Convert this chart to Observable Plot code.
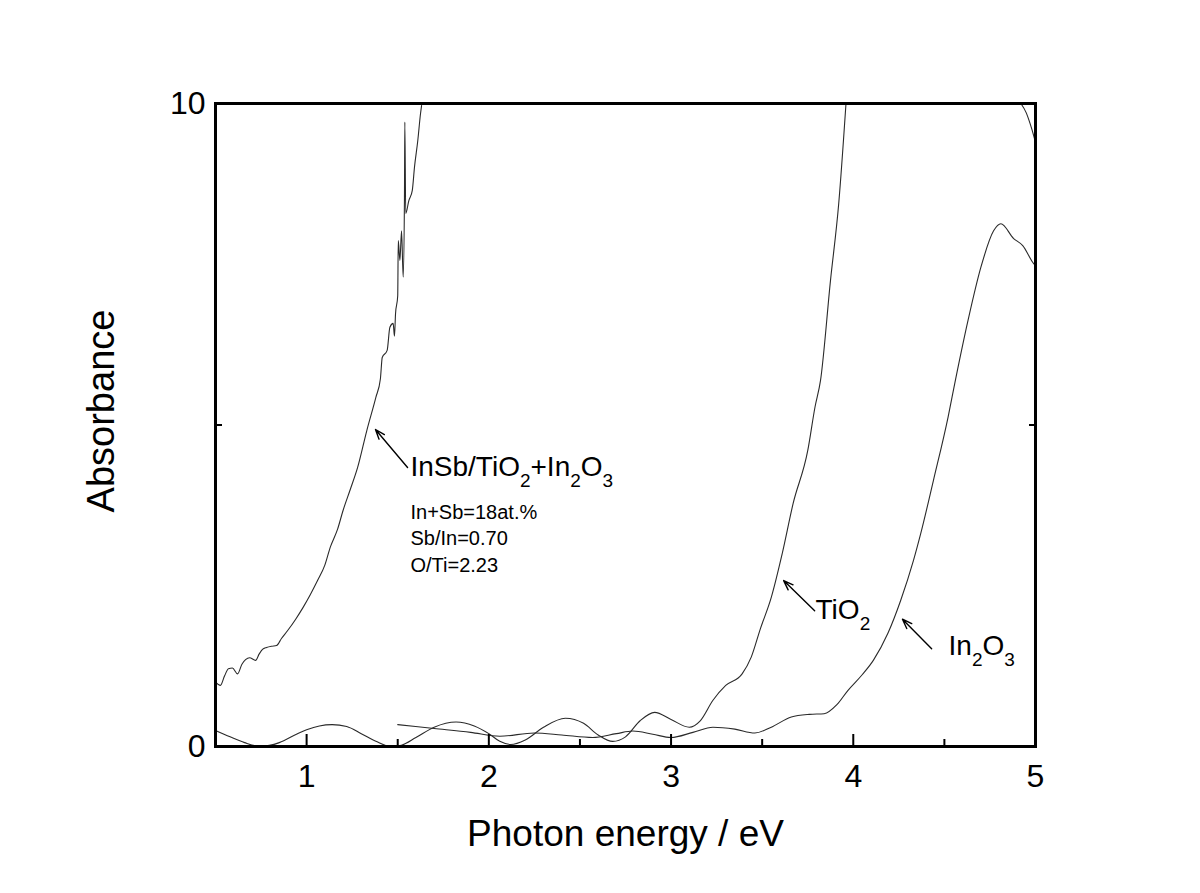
<!DOCTYPE html>
<html><head><meta charset="utf-8">
<script src="https://cdn.jsdelivr.net/npm/d3@7"></script>
<script src="https://cdn.jsdelivr.net/npm/@observablehq/plot@0.6"></script>
<style>body{margin:0;background:#fff;}</style>
</head><body><div id="chart"></div>
<script>
// InSb/TiO2+In2O3 composite film
const compX = [0.50,0.527,0.55,0.571,0.593,0.621,0.645,0.665,0.687,0.72,0.74,0.758,0.78,0.807,0.835,0.862,0.895,0.94,0.98,1.02,1.06,1.10,1.13,1.17,1.20,1.24,1.28,1.33,1.38,1.405,1.415,1.442,1.457,1.475,1.482,1.488,1.50,1.503,1.512,1.521,1.530,1.537,1.539,1.544,1.561,1.58,1.592,1.61,1.625,1.631];
const compY = [1.00,0.95,1.10,1.21,1.22,1.13,1.28,1.35,1.38,1.34,1.44,1.51,1.54,1.56,1.57,1.68,1.80,1.98,2.16,2.36,2.58,2.82,3.10,3.38,3.67,4.00,4.34,4.91,5.43,5.72,6.05,6.16,6.52,6.58,6.38,6.73,7.01,7.87,7.56,8.02,7.30,8.54,9.71,8.29,8.49,8.65,9.01,9.42,9.84,9.97];
// TiO2 film
const tio2X = [0.50,0.58,0.66,0.75,0.85,0.95,1.00,1.07,1.14,1.22,1.30,1.38,1.46,1.52,1.60,1.70,1.82,1.92,2.00,2.06,2.12,2.20,2.30,2.42,2.52,2.60,2.68,2.75,2.83,2.91,3.00,3.10,3.16,3.23,3.30,3.39,3.44,3.49,3.55,3.61,3.67,3.75,3.79,3.82,3.875,3.92,3.96];
const tio2Y = [0.25,0.15,0.06,0.00,0.06,0.20,0.26,0.32,0.34,0.31,0.20,0.08,0.00,0.02,0.14,0.30,0.38,0.32,0.20,0.08,0.03,0.10,0.30,0.44,0.36,0.18,0.08,0.15,0.40,0.53,0.42,0.30,0.40,0.72,0.95,1.13,1.39,1.83,2.32,3.00,3.78,4.60,5.28,5.69,7.25,8.44,10.0];
// In2O3 film
const in2o3X = [1.50,1.70,1.90,2.06,2.25,2.40,2.57,2.70,2.79,2.90,3.00,3.12,3.23,3.35,3.46,3.55,3.66,3.76,3.84,3.91,3.97,4.05,4.11,4.19,4.26,4.33,4.37,4.44,4.52,4.56,4.63,4.70,4.77,4.81,4.88,4.93,4.99,5.00];
const in2o3Y = [0.34,0.28,0.22,0.16,0.21,0.18,0.14,0.20,0.24,0.19,0.14,0.22,0.30,0.27,0.21,0.30,0.46,0.50,0.51,0.65,0.87,1.12,1.34,1.76,2.27,2.89,3.31,4.14,5.12,5.69,6.63,7.45,8.02,8.13,7.90,7.79,7.51,7.48];
// short segment at the top right corner
const tailX = [4.92,4.95,4.97,4.99,5.00];
const tailY = [10.0,9.85,9.69,9.50,9.39];

const xMajor = [1,2,3,4,5];
const xMinor = [0.5,1.5,2.5,3.5,4.5];
const yMajor = [0,10];
const yMinor = [5];

const chemLabels = ["InSb/TiO2+In2O3","TiO2","In2O3"];
const chemLabelX = [1.57,3.793,4.523];
const chemLabelY = [4.34,2.115,1.57];
const noteLines = ["In+Sb=18at.%","Sb/In=0.70","O/Ti=2.23"];
const noteX = [1.57,1.57,1.57];
const noteY = [3.63,3.23,2.82];
const arrowTipX = [1.378,3.618,4.27];
const arrowTipY = [4.93,2.58,1.98];
const arrowTailX = [1.554,3.788,4.43];
const arrowTailY = [4.34,2.11,1.52];

const rows = (name, xs, ys) => xs.map((x, i) => ({series: name, x, y: ys[i]}));
const lineData = [
  ...rows("comp", compX, compY),
  ...rows("tio2", tio2X, tio2Y),
  ...rows("in2o3", in2o3X, in2o3Y),
  ...rows("tail", tailX, tailY)
];
const labels = chemLabels.map((t, i) => ({t, x: chemLabelX[i], y: chemLabelY[i]}));
const notes = noteLines.map((t, i) => ({t, x: noteX[i], y: noteY[i]}));
const arrows = arrowTipX.map((x, i) => ({x1: arrowTailX[i], y1: arrowTailY[i], x2: x, y2: arrowTipY[i]}));

const font = "'Liberation Sans', Arial, Helvetica, sans-serif";
const chart = Plot.plot({
  width: 1200, height: 893,
  marginLeft: 215, marginRight: 165, marginTop: 103, marginBottom: 147,
  style: {fontFamily: font, background: "#fff", color: "#000"},
  x: {domain: [0.5, 5]},
  y: {domain: [0, 10]},
  marks: [
    Plot.line(lineData, {x: "x", y: "y", z: "series", stroke: "#2a2a2a", strokeWidth: 1.1, curve: "monotone-x", clip: true}),
    Plot.arrow(arrows, {x1: "x1", y1: "y1", x2: "x2", y2: "y2", stroke: "#000", strokeWidth: 1.4, headLength: 11, headAngle: 40}),
    Plot.text(labels, {x: "x", y: "y", text: "t", textAnchor: "start", fontSize: 28, fill: "#000"}),
    Plot.text(notes, {x: "x", y: "y", text: "t", textAnchor: "start", fontSize: 20, fill: "#000"}),
    Plot.axisX(xMajor, {tickSize: -12, tickPadding: 30, fontSize: 32, label: null, strokeWidth: 2, tickFormat: d => String(d)}),
    Plot.axisX(xMinor, {tickSize: -7, tickFormat: () => "", label: null, strokeWidth: 2}),
    Plot.axisY(yMajor, {anchor: "left", tickSize: 0, tickPadding: 10, fontSize: 32, label: null, tickFormat: d => String(d)}),
    Plot.axisY(yMinor, {anchor: "left", tickSize: -7, tickFormat: () => "", label: null, strokeWidth: 2}),
    Plot.axisY(yMinor, {anchor: "right", tickSize: -7, tickFormat: () => "", label: null, strokeWidth: 2}),
    Plot.frame({stroke: "#000", strokeWidth: 3}),
    Plot.text(["Photon energy / eV"], {frameAnchor: "bottom", textAnchor: "middle", dy: 99, fontSize: 37, fill: "#000"}),
    Plot.text(["Absorbance"], {frameAnchor: "left", textAnchor: "middle", dx: -114, dy: -14, rotate: -90, fontSize: 38, fill: "#000"})
  ]
});
document.getElementById("chart").appendChild(chart);

// chemical formulas: digits as subscripts
d3.select(chart).selectAll("text").each(function () {
  const t = this.textContent;
  if (!chemLabels.includes(t)) return;
  const el = d3.select(this);
  el.text(null);
  const parts = t.match(/\d+|\D+/g);
  let sub = false;
  parts.forEach(p => {
    const isDigit = /^\d+$/.test(p);
    const ts = el.append("tspan").text(p);
    if (isDigit) { ts.attr("font-size", 19).attr("dy", 11); sub = true; }
    else if (sub) { ts.attr("dy", -11); sub = false; }
  });
});
</script>
</body></html>
